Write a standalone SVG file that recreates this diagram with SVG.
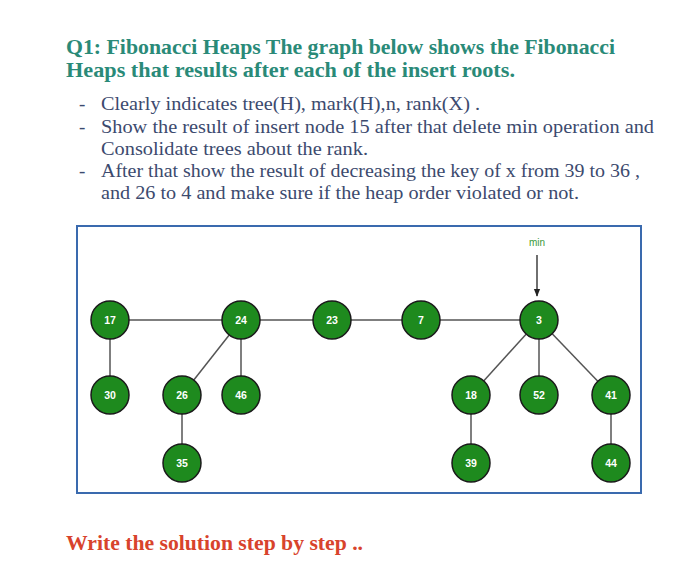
<svg xmlns="http://www.w3.org/2000/svg" width="700" height="576" viewBox="0 0 700 576">
<style>
.title{font-family:"Liberation Serif",serif;font-weight:bold;font-size:21px;fill:#2a8a78}
.body{font-family:"Liberation Serif",serif;font-size:19px;fill:#3c4a6e}
.foot{font-family:"Liberation Serif",serif;font-weight:bold;font-size:20px;fill:#d8432c}
.node circle{fill:#1e8a1e;stroke:#1a1a1a;stroke-width:1.5}
.node text{font-family:"Liberation Sans",Arial,sans-serif;font-weight:bold;font-size:10.5px;fill:#ffffff;text-anchor:middle}
.edge{stroke:#555555;stroke-width:1.5;fill:none}
</style>
<defs>
<marker id="arr" viewBox="0 0 10 10" refX="9" refY="5" markerWidth="6" markerHeight="6" orient="auto"><path d="M0,1 L10,5 L0,9 z" fill="#222"/></marker>
</defs>
<rect width="700" height="576" fill="#ffffff"/>
<text class="title" x="66" y="54" textLength="549" lengthAdjust="spacingAndGlyphs">Q1: Fibonacci Heaps The graph below shows the Fibonacci</text>
<text class="title" x="66" y="77" textLength="449" lengthAdjust="spacingAndGlyphs">Heaps that results after each of the insert roots.</text>
<g class="body">
<text x="79" y="110">-</text><text x="101" y="110" textLength="379" lengthAdjust="spacingAndGlyphs">Clearly indicates tree(H), mark(H),n, rank(X) .</text>
<text x="79" y="133">-</text><text x="101" y="133" textLength="553" lengthAdjust="spacingAndGlyphs">Show the result of insert node 15 after that delete min operation and</text>
<text x="101" y="155" textLength="267" lengthAdjust="spacingAndGlyphs">Consolidate trees about the rank.</text>
<text x="79" y="177">-</text><text x="101" y="177" textLength="539" lengthAdjust="spacingAndGlyphs">After that show the result of decreasing the key of x from 39 to 36 ,</text>
<text x="101" y="199" textLength="478" lengthAdjust="spacingAndGlyphs">and 26 to 4 and make sure if the heap order violated or not.</text>
</g>
<rect x="77" y="226" width="564" height="267" fill="none" stroke="#3a6aae" stroke-width="2"/>
<text x="537" y="246" font-family="'Liberation Sans',Arial,sans-serif" font-size="10" fill="#3a9a3a" text-anchor="middle">min</text>
<g id="connectors">
<line class="edge" x1="110" y1="320" x2="539" y2="320"/>
<line class="edge" x1="110" y1="320" x2="110" y2="395"/>
<line class="edge" x1="241" y1="320" x2="182" y2="395"/>
<line class="edge" x1="241" y1="320" x2="241" y2="395"/>
<line class="edge" x1="182" y1="395" x2="182" y2="463"/>
<line class="edge" x1="539" y1="320" x2="471" y2="395"/>
<line class="edge" x1="539" y1="320" x2="539" y2="395"/>
<line class="edge" x1="539" y1="320" x2="611" y2="395"/>
<line class="edge" x1="471" y1="395" x2="471" y2="463"/>
<line class="edge" x1="611" y1="395" x2="611" y2="463"/>
<line x1="537" y1="255" x2="537" y2="296" stroke="#222" stroke-width="1.3" marker-end="url(#arr)"/>
</g>
<g id="n17" class="node"><circle cx="110" cy="320" r="19"/><text x="110" y="324">17</text></g>
<g id="n24" class="node"><circle cx="241" cy="320" r="19"/><text x="241" y="324">24</text></g>
<g id="n23" class="node"><circle cx="332" cy="320" r="19"/><text x="332" y="324">23</text></g>
<g id="n7" class="node"><circle cx="421" cy="320" r="19"/><text x="421" y="324">7</text></g>
<g id="n3" class="node"><circle cx="539" cy="320" r="19"/><text x="539" y="324">3</text></g>
<g id="n30" class="node"><circle cx="110" cy="395" r="19"/><text x="110" y="399">30</text></g>
<g id="n26" class="node"><circle cx="182" cy="395" r="19"/><text x="182" y="399">26</text></g>
<g id="n46" class="node"><circle cx="241" cy="395" r="19"/><text x="241" y="399">46</text></g>
<g id="n18" class="node"><circle cx="471" cy="395" r="19"/><text x="471" y="399">18</text></g>
<g id="n52" class="node"><circle cx="539" cy="395" r="19"/><text x="539" y="399">52</text></g>
<g id="n41" class="node"><circle cx="611" cy="395" r="19"/><text x="611" y="399">41</text></g>
<g id="n35" class="node"><circle cx="182" cy="463" r="19"/><text x="182" y="467">35</text></g>
<g id="n39" class="node"><circle cx="471" cy="463" r="19"/><text x="471" y="467">39</text></g>
<g id="n44" class="node"><circle cx="611" cy="463" r="19"/><text x="611" y="467">44</text></g>
<text class="foot" x="66" y="550" textLength="297" lengthAdjust="spacingAndGlyphs">Write the solution step by step ..</text>
</svg>
